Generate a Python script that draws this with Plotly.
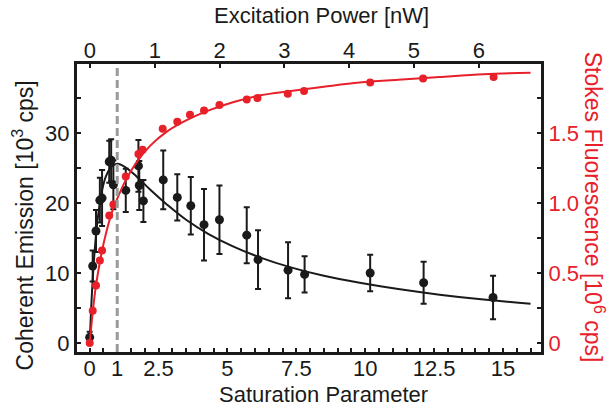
import plotly.graph_objects as go

# %% data
# coherent emission (black), x = saturation parameter, y in 10^3 cps
coh_sat = [0.0, 0.11, 0.23, 0.37, 0.45, 0.71, 0.78, 0.86, 1.31, 1.77, 1.80, 1.95,
           2.67, 3.18, 3.67, 4.15, 4.71, 5.70, 6.11, 7.20, 7.80, 10.18, 12.12, 14.64]
coh_val = [0.8, 11.0, 16.0, 20.4, 20.7, 25.9, 26.1, 22.6, 21.8, 25.3, 22.5, 20.3,
           23.3, 20.8, 19.6, 16.9, 17.6, 15.4, 11.9, 10.4, 9.8, 10.0, 8.6, 6.5]
coh_err = [0.8, 2.2, 3.0, 3.2, 4.0, 3.0, 3.0, 3.5, 3.1, 3.7, 3.5, 3.0,
           4.2, 3.3, 4.1, 5.1, 4.9, 4.0, 4.2, 4.0, 2.6, 2.6, 3.0, 3.1]

# stokes fluorescence (red), y in 10^6 cps
stokes_sat = [0.0, 0.11, 0.23, 0.37, 0.45, 0.71, 0.86, 1.31, 1.77, 1.92, 2.65, 3.18,
              3.64, 4.15, 4.71, 5.70, 6.09, 7.19, 7.78, 10.18, 12.10, 14.66]
stokes_val = [0.0, 0.23, 0.41, 0.59, 0.66, 0.91, 0.99, 1.19, 1.35, 1.38, 1.53, 1.58,
              1.63, 1.66, 1.70, 1.74, 1.75, 1.78, 1.80, 1.86, 1.89, 1.90]

# fit curves
curve_sat = [0.0, 0.05, 0.1, 0.2, 0.3, 0.45, 0.6, 0.8, 1.0, 1.3, 1.7, 2.2,
             2.8, 3.5, 4.3, 5.2, 6.2, 7.3, 8.5, 9.8, 11.2, 12.7, 14.3, 16.0]
coh_fit = [0.0, 4.6, 8.4, 14.1, 18.0, 21.8, 23.9, 25.2, 25.6, 25.1, 23.8, 21.9,
           19.8, 17.6, 15.6, 13.8, 12.2, 10.8, 9.6, 8.6, 7.7, 6.9, 6.2, 5.6]
stokes_fit = [0.0, 0.10, 0.20, 0.37, 0.50, 0.66, 0.79, 0.93, 1.03, 1.16, 1.29, 1.41,
              1.51, 1.59, 1.66, 1.72, 1.77, 1.80, 1.83, 1.86, 1.88, 1.90, 1.92, 1.93]

sat_ticks = [i * 0.5 for i in range(33)]
sat_labels = {0: "0", 1: "1", 2.5: "2.5", 5: "5", 7.5: "7.5", 10: "10", 12.5: "12.5", 15: "15"}
power_ticks = [0, 1, 2, 3, 4, 5, 6]
coh_ticks = [0, 5, 10, 15, 20, 25, 30, 35]
coh_labels = ["0", "", "10", "", "20", "", "30", ""]
stokes_ticks = [0, 0.25, 0.5, 0.75, 1.0, 1.25, 1.5, 1.75]
stokes_labels = ["0", "", "0.5", "", "1.0", "", "1.5", ""]

BLACK = "#1a1a1a"
RED = "#e8202a"

# %% traces
fig = go.Figure()
fig.add_trace(go.Scatter(x=curve_sat, y=coh_fit, mode="lines", line=dict(color=BLACK, width=2, shape="spline")))
fig.add_trace(go.Scatter(x=coh_sat, y=coh_val, mode="markers",
                         marker=dict(color=BLACK, size=9),
                         error_y=dict(type="data", array=coh_err, color=BLACK, thickness=2, width=3)))
fig.add_trace(go.Scatter(x=curve_sat, y=stokes_fit, mode="lines", yaxis="y2",
                         line=dict(color=RED, width=2, shape="spline")))
fig.add_trace(go.Scatter(x=stokes_sat, y=stokes_val, mode="markers", yaxis="y2",
                         marker=dict(color=RED, size=8)))
# keeps the top axis alive
fig.add_trace(go.Scatter(x=power_ticks, y=[None] * len(power_ticks), xaxis="x2", mode="markers",
                         marker=dict(opacity=0)))

# dashed line at saturation parameter 1
fig.add_shape(type="line", x0=1, x1=1, y0=0, y1=1, xref="x", yref="paper",
              line=dict(color="#9a9a9a", width=3, dash="8px,4px"))

# %% axes
axis_style = dict(showline=True, linewidth=3, linecolor=BLACK, ticks="inside", ticklen=4,
                  tickwidth=2, tickcolor=BLACK, showgrid=False, zeroline=False)

fig.update_layout(
    width=609, height=411,
    margin=dict(l=77, r=68, t=64, b=59),
    showlegend=False,
    paper_bgcolor="white", plot_bgcolor="white",
    font=dict(family="Liberation Sans, Arial, sans-serif", size=22, color=BLACK),
    xaxis=dict(range=[-0.46, 16.38], tickvals=sat_ticks, ticklabelstandoff=-5,
               ticktext=[sat_labels.get(t, "") for t in sat_ticks], **axis_style),
    xaxis2=dict(range=[-0.2, 6.96], overlaying="x", side="top", anchor="y", ticklabelstandoff=-6,
                tickvals=power_ticks, ticktext=[str(p) for p in power_ticks], **axis_style),
    yaxis=dict(range=[-1.29, 39.86], tickvals=coh_ticks, ticktext=coh_labels, **axis_style),
    yaxis2=dict(range=[-0.0643, 1.993], overlaying="y", side="right", anchor="x",
                tickvals=stokes_ticks, ticktext=stokes_labels, tickfont=dict(color=RED), **axis_style),
)

# axis titles as annotations (right one reads top to bottom)
fig.add_annotation(text="Saturation Parameter", xref="paper", yref="paper", x=0.531, y=-0.149,
                   showarrow=False, xanchor="center", yanchor="middle")
fig.add_annotation(text="Excitation Power [nW]", xref="paper", yref="paper", x=0.528, y=1.17,
                   showarrow=False, xanchor="center", yanchor="middle")
fig.add_annotation(text="Coherent Emission [10<sup>3</sup> cps]", xref="paper", yref="paper",
                   x=-0.116, y=0.44, textangle=-90, showarrow=False, xanchor="center", yanchor="middle",
                   font=dict(size=23))
fig.add_annotation(text="Stokes Fluorescence [10<sup>6</sup> cps]", xref="paper", yref="paper",
                   x=1.115, y=0.503, textangle=90, showarrow=False, xanchor="center", yanchor="middle",
                   font=dict(color=RED, size=23))

# drop the default page margin so the figure sits at the window's corner
config = {"displayModeBar": False}
fig.write_html("out.html", config=config, post_script="document.body.style.margin='0px';")
